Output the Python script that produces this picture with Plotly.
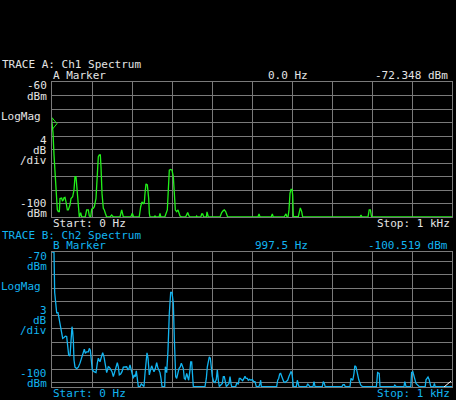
import plotly.graph_objects as go

W, H = 456, 400

# Trace A (Ch1 spectrum), 0..1 kHz, dBm
freq_a = [0, 2.5, 5, 7.5, 10, 13.3, 15.8, 18.3, 20, 24, 26, 28.3, 30, 32.5, 35, 36.7, 38.3, 40.8,
          45, 47.5, 51.7, 55, 57.5, 60, 63.3, 65.8, 68.3, 71.7, 74.2, 83, 86.7, 90.8, 93.3, 96.7,
          99.2, 103.3, 105.8, 110, 113.3, 115.8, 118.3, 120.8, 122.5, 125, 128.3, 130.8, 133.3,
          136.7, 145, 149.2, 153.3, 170, 174.2, 178.3, 197, 200.8, 204, 218, 221.7, 225, 228.3,
          230.8, 232.5, 235, 238.3, 241.7, 243.3, 245, 255, 257.5, 260, 268, 270, 272, 282, 285,
          288.3, 290.8, 293.3, 296.7, 300, 303.3, 305.8, 308.3, 311.7, 315, 320, 324.2, 334,
          336.7, 339.2, 342.5, 345, 360, 361.7, 363, 372, 374.2, 376.7, 379.2, 386, 387.5, 390.8,
          420, 424.2, 428.3, 430.8, 434.2, 437.5, 439.2, 515, 517.5, 520, 548, 550.8, 553, 580,
          582.5, 585, 587.5, 590, 592.5, 595, 597.5, 600, 601.7, 603.3, 615.8, 618.3, 620.8,
          624.2, 626.7, 770, 772.5, 775, 790, 793, 796, 799, 1000]
level_a = [-72.3, -75.0, -81.6, -87.1, -92.0, -97.9, -98.4, -98.4, -94.5, -94.4, -95.2, -95.0,
           -94.3, -94.2, -95.5, -96.45, -97.9, -97.9, -96.45, -94.5, -94.0, -92.0, -88.05, -88.05,
           -93.5, -96.95, -100, -98.7, -100, -100, -97.9, -97.9, -99.7, -100, -97.7, -97.4, -96.95,
           -94.5, -85.1, -82.1, -81.6, -81.6, -85.1, -93.0, -97.4, -97.9, -98.9, -100, -100, -99.4,
           -100, -100, -97.9, -100, -100, -98.9, -100, -100, -96.95, -95.5, -96.0, -95.8, -93.0,
           -90.2, -90.5, -94.5, -98.9, -100, -100, -99.7, -100, -100, -98.9, -100, -100, -98.9,
           -97.9, -92.0, -86.1, -85.9, -86.1, -88.05, -94.5, -97.9, -98.4, -97.9, -99.7, -100,
           -100, -99.4, -98.7, -99.7, -100, -100, -99.7, -100, -100, -99.1, -99.1, -100, -100,
           -98.5, -100, -100, -98.7, -98.1, -97.9, -98.4, -99.4, -100, -100, -99.1, -100, -100,
           -99.1, -100, -100, -99.7, -99.1, -100, -100, -97.9, -93.0, -91.8, -91.8, -93.5, -99.9,
           -99.9, -98.4, -97.3, -98.4, -100, -100, -99.4, -100, -100, -97.9, -97.9, -100, -100]

# Trace B (Ch2 spectrum)
freq_b = [0, 2.5, 5, 6.7, 9.2, 11.7, 15, 17.5, 20, 22.5, 25, 26.7, 30, 33.3, 36.7, 39.2, 41.7,
          45, 47.5, 50, 51.7, 53.3, 55, 57.5, 61.7, 65.8, 70, 74.2, 78.3, 80.8, 83.3, 86.7, 90.8,
          93.3, 95.8, 98.3, 100.8, 105, 110, 113.3, 115.8, 120, 124.2, 126.7, 130, 133.3, 136.7,
          140.8, 143.3, 146.7, 150, 153.3, 157.5, 160, 163.3, 165.8, 168.3, 171.7, 175, 178.3,
          182.5, 186.7, 190, 192.5, 195, 197.5, 200.8, 203.3, 205.8, 208.3, 210.8, 213.3, 215.8,
          220, 223.3, 226.7, 230, 232.5, 235, 237.5, 240, 243.3, 246.7, 249.2, 251.7, 255, 258.3,
          261.7, 264.2, 266.7, 270, 272.5, 275, 281.7, 283.3, 286.7, 290, 293.3, 296.7, 300,
          303.3, 305.8, 309.2, 311.7, 314.2, 317.5, 320.8, 323.3, 325.8, 328.3, 330.8, 333.3,
          336.7, 339.2, 341.7, 345, 346.7, 349.2, 351.7, 353.3, 382.5, 385.8, 388.3, 390.8,
          393.3, 395.8, 398.3, 400.8, 404.2, 407.5, 410.8, 413.3, 415.8, 418.3, 425.8, 428.3,
          430.8, 433.3, 435.8, 442.5, 445, 447.5, 449.2, 459.2, 461.7, 465.8, 468.3, 470.8, 474.2,
          476.7, 480, 482.5, 485, 488.3, 490.8, 494.2, 497.5, 500.8, 504.2, 507.5, 510.8, 517.5,
          520, 521.7, 523.3, 561.7, 564.2, 566.7, 569.2, 571.7, 574.2, 576.7, 579.2, 582.5,
          585.8, 589.2, 592.5, 595, 597.5, 599.2, 600.8, 603.3, 610.8, 613.3, 615.8, 617.5,
          636.7, 639.2, 641.7, 644.2, 652.5, 655, 657.5, 675.8, 678.3, 680.8, 683, 725, 727.5,
          731, 733, 745, 747.5, 752, 755, 757, 760, 763, 767, 772, 776, 811, 814, 818, 820, 855,
          857, 860, 880, 882, 885, 897, 899, 902, 906, 910, 918, 933, 935, 940, 943, 947, 954,
          956, 958, 1000]
level_b = [-70, -70, -70, -79.0, -82.2, -83.5, -83.5, -84.7, -86.0, -87.0, -88.1, -89.2, -89.0,
           -88.7, -88.8, -91.4, -92.9, -93.1, -89.4, -86.6, -87.7, -89.6, -94.0, -95.6, -95.9,
           -95.6, -94.7, -93.3, -91.8, -91.6, -92.5, -92.2, -92.2, -91.4, -91.8, -95.1, -96.2,
           -96.6, -96.8, -94.7, -93.6, -94.4, -93.3, -92.4, -93.3, -95.5, -96.8, -95.5, -95.6,
           -96.1, -96.6, -97.7, -96.2, -95.1, -94.6, -95.5, -97.3, -97.1, -96.6, -95.6, -95.6,
           -95.5, -96.2, -95.9, -95.1, -96.1, -97.3, -98.1, -97.3, -97.7, -96.4, -97.7, -99.9,
           -99.9, -99.3, -99.6, -99.9, -97.0, -93.6, -92.4, -93.6, -97.3, -96.1, -95.3, -95.9,
           -96.6, -95.9, -94.6, -95.6, -96.1, -96.8, -98.1, -99.9, -99.9, -95.5, -96.8, -91.8,
           -83.6, -79.0, -79.0, -81.4, -89.2, -97.7, -98.1, -97.0, -95.9, -95.5, -94.7, -95.3,
           -95.9, -98.1, -98.3, -97.0, -98.1, -98.5, -96.2, -94.4, -94.4, -97.3, -99.9, -99.9,
           -98.1, -95.5, -94.0, -93.3, -93.6, -95.5, -97.7, -98.8, -99.0, -98.3, -96.2, -98.5,
           -99.9, -99.2, -97.7, -97.7, -98.8, -99.9, -99.2, -97.7, -99.2, -99.9, -99.9, -99.2,
           -99.3, -98.1, -98.1, -98.5, -98.6, -98.1, -97.6, -98.1, -98.1, -98.5, -98.3, -98.5,
           -98.3, -98.8, -98.8, -99.9, -99.9, -99.2, -98.5, -99.9, -99.9, -98.5, -98.1, -97.1,
           -97.0, -97.6, -98.1, -98.8, -99.0, -98.8, -98.5, -97.6, -97.1, -96.6, -96.8, -97.6,
           -99.9, -99.9, -98.5, -99.6, -99.9, -99.9, -99.3, -99.6, -99.9, -99.9, -98.8, -99.9,
           -99.9, -98.8, -99.2, -99.9, -99.9, -99.5, -99.5, -99.9, -99.9, -98.1, -98.5, -97.0,
           -95.3, -95.5, -97.0, -98.4, -99.6, -99.9, -99.9, -96.8, -97.0, -99.9, -99.9, -99.6,
           -99.9, -99.9, -98.8, -99.9, -99.9, -96.8, -96.6, -97.8, -99.2, -99.9, -99.9, -98.4,
           -97.8, -98.4, -99.9, -99.9, -99.2, -99.9, -99.9]

marker_a = (0.0, -72.348)
marker_b = (997.5, -100.519)

GRID = '#7a7a7a'
TXT_A = '#e4e4e4'
TXT_B = '#12b4f0'
GREEN = '#22f01a'
CYAN = '#12b4f0'
FONT = 'DejaVu Sans Mono'

fig = go.Figure()
fig.add_trace(go.Scatter(x=freq_a, y=level_a, mode='lines', line=dict(color=GREEN, width=1.3),
                         xaxis='x', yaxis='y', showlegend=False, hoverinfo='skip'))
fig.add_trace(go.Scatter(x=freq_b, y=level_b, mode='lines', line=dict(color=CYAN, width=1.3),
                         xaxis='x2', yaxis='y2', showlegend=False, hoverinfo='skip'))

x_dom = [52 / W, 452 / W]
axis_common = dict(showgrid=True, gridcolor=GRID, gridwidth=1, showline=True, linecolor=GRID,
                   linewidth=1, mirror=True, zeroline=False, showticklabels=False, ticks='',
                   fixedrange=True)

fig.update_layout(
    width=W, height=H,
    margin=dict(l=0, r=0, t=0, b=0),
    paper_bgcolor='black', plot_bgcolor='black',
    xaxis=dict(domain=x_dom, range=[0, 1000], dtick=100, anchor='y', **axis_common),
    yaxis=dict(domain=[1 - 217 / H, 1 - 82 / H], range=[-100, -60], dtick=4, anchor='x', **axis_common),
    xaxis2=dict(domain=x_dom, range=[0, 1000], dtick=100, anchor='y2', **axis_common),
    yaxis2=dict(domain=[1 - 387 / H, 1 - 252 / H], range=[-100, -70], dtick=3, anchor='x2', **axis_common),
)

# marker A: hollow triangle at the start of trace A
fig.add_shape(type='path', xref='x', yref='y', xsizemode='pixel', ysizemode='pixel',
              xanchor=marker_a[0], yanchor=marker_a[1], path='M 0,6 L 5,0 L 0,-6 Z',
              line=dict(color=GREEN, width=1))
# marker B sits just under the bottom edge; only a corner of it shows
fig.add_shape(type='line', xref='x2', yref='y2', x0=980, y0=-100, x1=marker_b[0], y1=-98.7,
              line=dict(color='white', width=1))


def label(text, px, py, color, align='left'):
    fig.add_annotation(text=text, x=px / W, y=1 - py / H, xref='paper', yref='paper',
                       xanchor=align, yanchor='middle', showarrow=False,
                       font=dict(family=FONT, size=11, color=color))


for c, dy, name, mk_f, mk_v, top, scale in [
        (TXT_A, 0, 'TRACE A: Ch1 Spectrum', '0.0 Hz', '-72.348 dBm', '-60', '4'),
        (TXT_B, 170, 'TRACE B: Ch2 Spectrum', '997.5 Hz', '-100.519 dBm', '-70', '3')]:
    label(name, 0, 65 + dy, c)
    label(name[6] + ' Marker', 51, 75.5 + dy, c)
    label(mk_f, 310, 75.5 + dy, c, 'right')
    label(mk_v, 450, 75.5 + dy, c, 'right')
    label(top, 49, 86 + dy, c, 'right')
    label('dBm', 49, 96 + dy, c, 'right')
    label('LogMag', -1, 116.5 + dy, c)
    label(scale, 49, 140 + dy, c, 'right')
    label('dB', 49, 150 + dy, c, 'right')
    label('/div', 49, 160 + dy, c, 'right')
    label('-100', 49, 203.5 + dy, c, 'right')
    label('dBm', 49, 213.5 + dy, c, 'right')
    label('Start: 0 Hz', 51, 223.5 + dy, c)
    label('Stop: 1 kHz', 452, 223.5 + dy, c, 'right')

# the page body has a default 8px margin; drop it so the 456x400 figure fills the window
fig.write_html("out.html", config={'displayModeBar': False},
               post_script="document.body.style.margin='0';")
